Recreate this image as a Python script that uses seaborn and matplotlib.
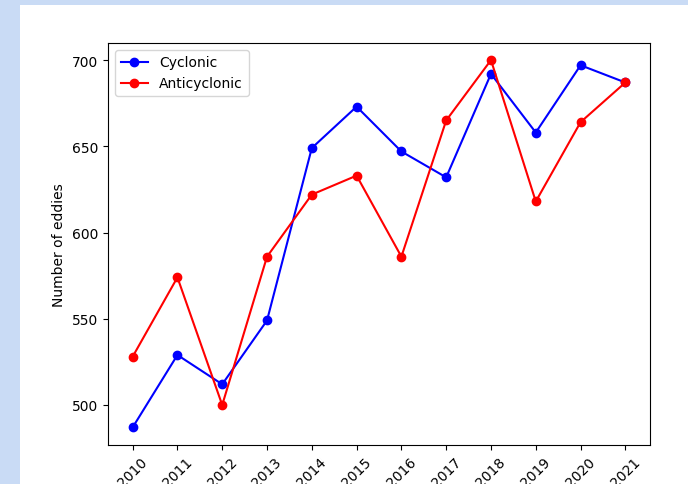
import matplotlib
matplotlib.use('Agg')
import matplotlib.pyplot as plt
import seaborn as sns
import pandas as pd
from matplotlib.patches import Rectangle

# data
years = [2010, 2011, 2012, 2013, 2014, 2015, 2016, 2017, 2018, 2019, 2020, 2021]
cyclonic = [487, 529, 512, 549, 649, 673, 647, 632, 692, 658, 697, 687]
anticyclonic = [528, 574, 500, 586, 622, 633, 586, 665, 700, 618, 664, 687]

df = pd.DataFrame({'Year': years, 'Cyclonic': cyclonic, 'Anticyclonic': anticyclonic})

fig = plt.figure(figsize=(6.88, 4.85), dpi=100, facecolor='#c9dbf5')
# white page area (the screenshot shows a blue strip at left and top)
fig.patches.append(Rectangle((20 / 688, 0), 1 - 20 / 688, 1 - 6 / 485,
                             transform=fig.transFigure, facecolor='white',
                             edgecolor='none', zorder=-5))
ax = fig.add_axes([108 / 688, 39 / 485, 542 / 688, 402 / 485])
ax.set_zorder(2)

sns.lineplot(data=df, x='Year', y='Cyclonic', ax=ax, color='blue', marker='o',
             markeredgecolor=None, markeredgewidth=1, label='Cyclonic')
sns.lineplot(data=df, x='Year', y='Anticyclonic', ax=ax, color='red', marker='o',
             markeredgecolor=None, markeredgewidth=1, label='Anticyclonic')

ax.set_xticks(years)
ax.set_xticklabels([str(y) for y in years], rotation=45)
ax.set_yticks([500, 550, 600, 650, 700])
ax.set_ylim(476.8, 709.9)
ax.set_xlabel('')
ax.set_ylabel('Number of eddies')
ax.legend(loc='upper left')

fig.savefig('out.png', dpi=100, facecolor=fig.get_facecolor())
